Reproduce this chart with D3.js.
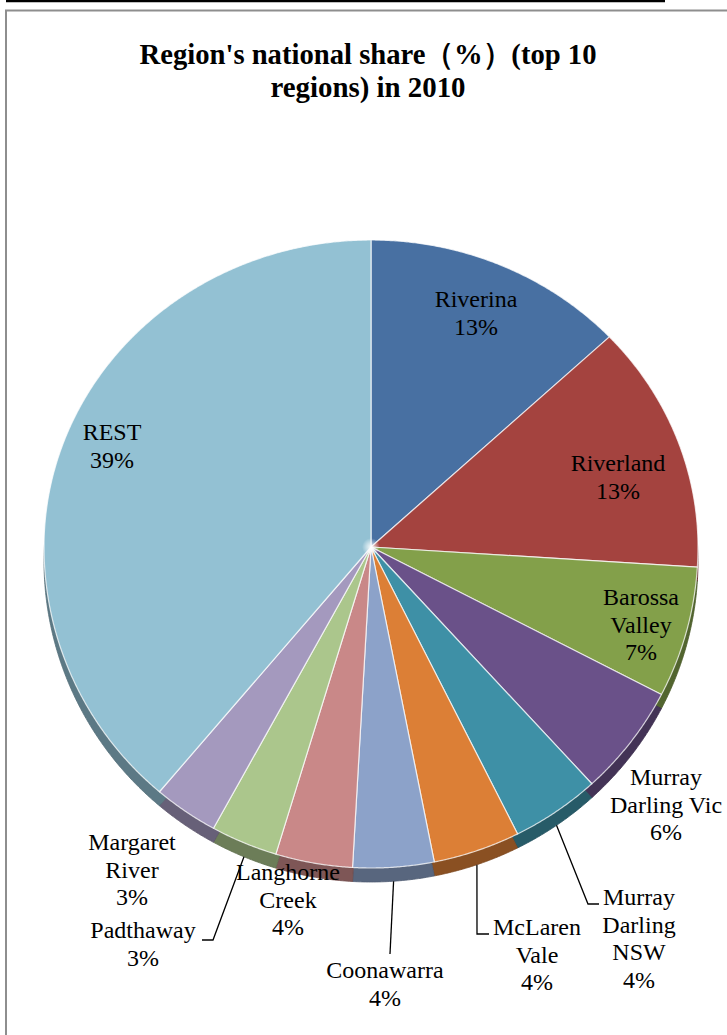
<!DOCTYPE html>
<html>
<head>
<meta charset="utf-8">
<script src="https://cdn.jsdelivr.net/npm/d3@7"></script>
<style>
  html, body { margin: 0; padding: 0; background: #ffffff; }
  svg { display: block; }
</style>
</head>
<body>
<svg id="chart" width="727" height="1035"></svg>
<script>
// ---- data ----
const titleLines = ["Region's national share（%）(top 10", "regions) in 2010"];
const categories = ["Riverina", "Riverland", "Barossa Valley", "Murray Darling Vic", "Murray Darling NSW",
                    "McLaren Vale", "Coonawarra", "Langhorne Creek", "Padthaway", "Margaret River", "REST"];
const shares = [13.0, 13.0, 6.6, 5.6, 4.4, 4.3, 4.0, 3.8, 3.3, 3.2, 38.8];
const labelLines = [["Riverina"], ["Riverland"], ["Barossa", "Valley"], ["Murray", "Darling Vic"],
                    ["Murray", "Darling", "NSW"], ["McLaren", "Vale"], ["Coonawarra"], ["Langhorne", "Creek"],
                    ["Padthaway"], ["Margaret", "River"], ["REST"]];

// ---- styles / layout ----
const colors = ["#4870A2", "#A4433F", "#83A04A", "#6A5189", "#3E90A6", "#DC7F36",
                "#8CA2C9", "#C98888", "#ABC68C", "#A499BE", "#93C1D3"];
// label anchor: [center x, first baseline]
const labelPos = [[476, 307], [618, 471], [641, 605], [666, 785], [639, 905], [537, 935],
                  [385, 978], [288, 880], [143, 938], [132, 850], [112, 440]];
// leader line bend points (null = no leader)
const leaders = [null, null, null, null, [[588, 904], [599, 904]], [[477, 934], [489, 934]],
                 [[390, 954]], null, [[213, 940], [202, 940]], null, null];
const titleWidths = [457, 195];

const W = 727, H = 1035;
const cx = 371, cy = 547, rx = 327, ryTop = 307, ryBot = 321, depth = 14;
const fontLabel = "'Liberation Serif', 'Times New Roman', serif";

const svg = d3.select("#chart");

// frame
svg.append("line").attr("x1", 6).attr("x2", 665).attr("y1", 1).attr("y2", 1)
  .attr("stroke", "#000").attr("stroke-width", 2.5);
svg.append("rect").attr("x", 6).attr("y", 10.5).attr("width", 760).attr("height", 1060)
  .attr("fill", "none").attr("stroke", "#8e8e8e").attr("stroke-width", 2);

// title
svg.append("g").selectAll("text").data(titleLines).join("text")
  .attr("x", 368).attr("y", (d, i) => 64 + i * 33)
  .attr("text-anchor", "middle")
  .attr("font-family", fontLabel).attr("font-weight", "bold").attr("font-size", 30)
  .attr("textLength", (d, i) => titleWidths[i])
  .attr("lengthAdjust", "spacingAndGlyphs")
  .attr("fill", "#000").text(d => d);

// pie geometry
const pie = d3.pie().sort(null).value(d => d);
const arcs = pie(shares);

function proj(theta, r, dy) {
  const s = Math.sin(theta), c = Math.cos(theta);
  return [cx + r * rx * s, cy + dy - r * c * (c > 0 ? ryTop : ryBot)];
}
const line = d3.line();
function slicePath(d, dy) {
  const pts = [[cx, cy + dy]];
  const n = Math.max(2, Math.ceil((d.endAngle - d.startAngle) / 0.005));
  for (let k = 0; k <= n; k++) {
    const t = d.startAngle + (d.endAngle - d.startAngle) * k / n;
    pts.push(proj(t, 1, dy));
  }
  return line(pts) + "Z";
}

// side (depth)
svg.append("g").selectAll("path").data(arcs).join("path")
  .attr("d", d => slicePath(d, depth))
  .attr("fill", (d, i) => d3.color(colors[i]).darker(1.3))
  .attr("stroke", (d, i) => d3.color(colors[i]).darker(1.6))
  .attr("stroke-width", 0.8);

// top surface
svg.append("g").selectAll("path").data(arcs).join("path")
  .attr("d", d => slicePath(d, 0))
  .attr("fill", (d, i) => colors[i])
  .attr("stroke", "rgba(255,255,255,0.75)")
  .attr("stroke-width", 1.2)
  .attr("stroke-linejoin", "round");

// center glare
const defs = svg.append("defs");
const rg = defs.append("radialGradient").attr("id", "glare");
rg.append("stop").attr("offset", "0%").attr("stop-color", "#fff").attr("stop-opacity", 0.95);
rg.append("stop").attr("offset", "100%").attr("stop-color", "#fff").attr("stop-opacity", 0);
svg.append("circle").attr("cx", cx).attr("cy", cy).attr("r", 9).attr("fill", "url(#glare)");

// leader lines
const leaderG = svg.append("g");
arcs.forEach((d, i) => {
  if (!leaders[i]) return;
  const mid = (d.startAngle + d.endAngle) / 2;
  const start = proj(mid, 1, depth);
  const pts = [start].concat(leaders[i]);
  leaderG.append("path").attr("d", d3.line()(pts))
    .attr("fill", "none").attr("stroke", "#000").attr("stroke-width", 1.3);
});

// labels
const lblG = svg.append("g");
arcs.forEach((d, i) => {
  const lines = labelLines[i].concat([Math.round(d.data) + "%"]);
  const t = lblG.append("text")
    .attr("text-anchor", "middle")
    .attr("font-family", fontLabel).attr("font-size", 24).attr("fill", "#000");
  lines.forEach((s, k) => {
    t.append("tspan").attr("x", labelPos[i][0]).attr("y", labelPos[i][1] + k * 27.5).text(s);
  });
});
</script>
</body>
</html>
